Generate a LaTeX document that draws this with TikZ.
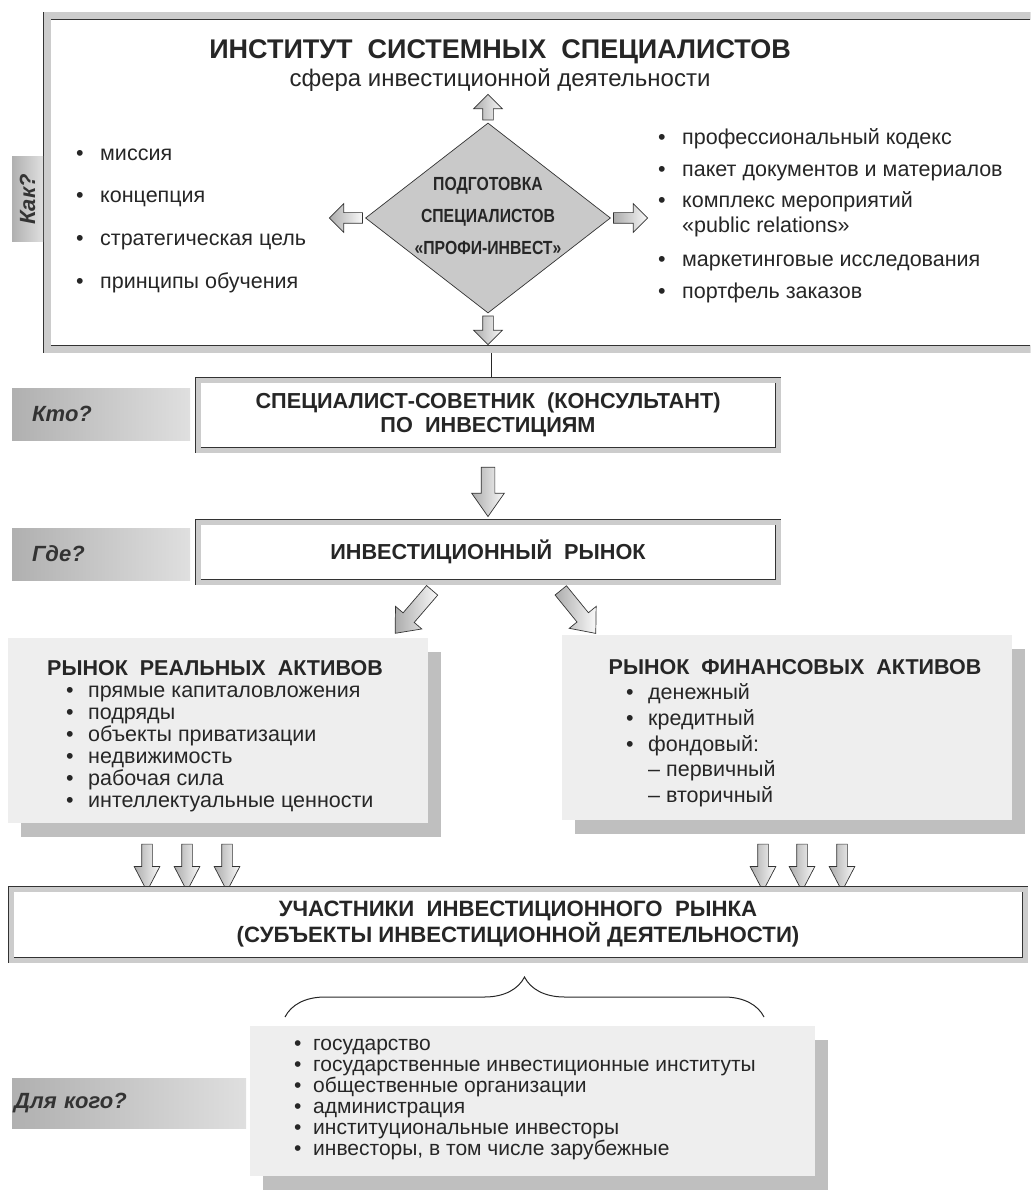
\documentclass[tikz,border=0pt]{standalone}
\usepackage{fontspec}
\setmainfont{Liberation Sans}
\newfontfamily\narrowfont[FakeStretch=0.83]{Liberation Sans}
\usetikzlibrary{shapes.geometric,shapes.arrows,calc,decorations.pathreplacing,shadows}

\newcommand\fs[2]{\fontsize{#1}{#2}\selectfont}
\newcommand\bul[1][22pt]{\makebox[#1][l]{\textbullet}}
\newcommand\blockarr[4][]{%
  \path let \p1=($(#4)-(#3)$), \n1={atan2(\y1,\x1)}, \n2={veclen(\x1,\y1)} in
    node[fatarr, #1, rotate=\n1, minimum height=\n2] (#2) at ($(#3)!0.5!(#4)$) {};}

\begin{document}
\begin{tikzpicture}[x=1pt, y=-1pt,
  txt/.style={text=black!85},
  frame/.style={draw=black!80, line width=0.7pt, double=gray!40, double distance=5pt,
    fill=white, text=black!85, align=center, font=\bfseries\fs{21.7}{24}},
  tag/.style={left color=gray!62, right color=gray!25, text=black!80,
    font=\bfseries\itshape\fs{22}{24}, inner xsep=20pt, anchor=west, align=left},
  item/.style={text=black!85, font=\fs{21.5}{22}, anchor=base west, inner sep=0pt},
  panel/.style={fill=gray!13, anchor=north west,
    drop shadow={shadow xshift=13pt, shadow yshift=-14pt, fill=gray!50, opacity=1}},
  fatarr/.style={shape=single arrow, draw=black!80, line width=0.7pt, inner sep=0pt,
    inner ysep=6.5pt, single arrow head extend=9.5pt, single arrow tip angle=70,
    left color=gray!65, right color=gray!5},
  smallarr/.style={inner ysep=5pt, single arrow head extend=9pt, single arrow tip angle=90},
  thinarr/.style={inner ysep=5pt, single arrow head extend=7.5pt, single arrow tip angle=55},
  diagarr/.style={inner ysep=7pt, single arrow head extend=10pt, single arrow tip angle=80},
]
\useasboundingbox (0,0) rectangle (1030,1190);
\clip (0,0) rectangle (1030,1190);

\node[frame, double distance=7pt, minimum width=989, minimum height=333] (inst) at (541.5,182.5) {};
\node[txt, font=\bfseries\fs{27}{30}] (title) at (500,52) {ИНСТИТУТ\ \ СИСТЕМНЫХ\ \ СПЕЦИАЛИСТОВ};
\node[txt, font=\fs{24}{28}] (sphere) at (500,80) {сфера инвестиционной деятельности};
\node[tag, rotate=90, anchor=center, inner sep=0pt, minimum width=85, minimum height=31] (qHow) at (27.5,199.5) {Как?};

\node[diamond, draw=black!80, line width=0.7pt, fill=gray!42, minimum width=245, minimum height=190, inner sep=0pt] (prep) at (488,218) {};
\node[txt, font=\narrowfont\bfseries\fs{19}{32}, align=center] (preptxt) at (488,216) {ПОДГОТОВКА\\СПЕЦИАЛИСТОВ\\«ПРОФИ-ИНВЕСТ»};

\coordinate (upT) at (488,97);
\coordinate (dnT) at (488,342);
\coordinate (lfT) at (332,218);
\coordinate (rtT) at (645,218);
\blockarr[smallarr]{aUp}{prep.north}{upT}
\blockarr[smallarr]{aDn}{prep.south}{dnT}
\blockarr[smallarr]{aLf}{prep.west}{lfT}
\blockarr[smallarr]{aRt}{prep.east}{rtT}

\foreach \t [count=\i] in {миссия, концепция, стратегическая цель, принципы обучения}
  \node[item] (how\i) at (76, 117.5+42.7*\i) {\bul[24pt]\t};

\foreach \y/\t [count=\i] in {145/профессиональный кодекс, 177/пакет документов и материалов,
    208/комплекс мероприятий, 266/маркетинговые исследования, 298/портфель заказов}
  \node[item] (tool\i) at (658,\y) {\bul[24pt]\t};
\node[item] (tool3b) at (682,233) {«public relations»};

\node[frame, minimum width=580, minimum height=70] (cons) at (488,415)
  {СПЕЦИАЛИСТ-СОВЕТНИК\ \ (КОНСУЛЬТАНТ)\\ПО\ \ ИНВЕСТИЦИЯМ};
\node[frame, minimum width=580, minimum height=60] (mkt) at (488,552) {ИНВЕСТИЦИОННЫЙ\ \ РЫНОК};
\node[tag, text width=138, minimum height=52] (qWho) at (12,414) {Кто?};
\node[tag, text width=138, minimum height=52] (qWhere) at (12,554) {Где?};

\draw[black!85, line width=0.8pt] ($(inst.south -| cons.north)+(3,4)$) -- ($(cons.north)+(3,-3)$);

\coordinate (c1) at ($(cons.south)+(0,12)$);
\coordinate (c2) at ($(mkt.north)+(0,-10)$);
\blockarr{aKw}{c1}{c2}

\coordinate (d1) at (435,587);
\coordinate (d1h) at (398,630);
\coordinate (d2) at (558,587);
\coordinate (d2h) at (593,630);
\blockarr[diagarr]{aReal}{d1}{d1h}
\blockarr[diagarr]{aFin}{d2}{d2h}

\node[panel, minimum width=420, minimum height=185] (real) at (8,638) {};
\node[panel, minimum width=450, minimum height=185] (fin) at (562,635) {};
\node[txt, font=\bfseries\fs{21.5}{24}] (realt) at (215,668) {РЫНОК\ \ РЕАЛЬНЫХ\ \ АКТИВОВ};
\node[txt, font=\bfseries\fs{21.5}{24}] (fint) at (795,667) {РЫНОК\ \ ФИНАНСОВЫХ\ \ АКТИВОВ};

\foreach \t [count=\i] in {прямые капиталовложения, подряды, объекты приватизации,
    недвижимость, рабочая сила, интеллектуальные ценности}
  \node[item] (real\i) at (66, 675.5+22*\i) {\bul\t};
\foreach \t [count=\i] in {денежный, кредитный, фондовый:}
  \node[item] (fin\i) at (626, 673.75+25.75*\i) {\bul\t};
\foreach \t [count=\i from 4] in {первичный, вторичный}
  \node[item] (fin\i) at (648, 673.75+25.75*\i) {–\hspace{6pt}\t};

\foreach \x [count=\i] in {147,187,227,763,802,842} {
  \coordinate (p\i) at (\x,839);
  \coordinate (q\i) at (\x,886);
  \blockarr[thinarr]{aPa\i}{p\i}{q\i}
}

\node[frame, font=\bfseries\fs{22.2}{26}, minimum width=1014, minimum height=71] (members) at (518,924.5)
  {УЧАСТНИКИ\ \ ИНВЕСТИЦИОННОГО\ \ РЫНКА\\(СУБЪЕКТЫ ИНВЕСТИЦИОННОЙ ДЕЯТЕЛЬНОСТИ)};

\coordinate (brL) at (285,1017);
\coordinate (brR) at (764,1017);
\draw[black!85, line width=1pt, decorate, decoration={brace, amplitude=40pt}] (brL) -- (brR);

\node[panel, minimum width=565, minimum height=150] (subj) at (250,1026) {};
\node[tag, inner xsep=2pt, text width=230, minimum height=50] (qWhom) at (12,1103) {Для кого?};
\foreach \t [count=\i] in {государство, государственные инвестиционные институты,
    общественные организации, администрация, институциональные инвесторы,
    {инвесторы, в том числе зарубежные}}
  \node[item, font=\fs{21}{22}] (subj\i) at (294, 1029.5+21*\i) {\bul[19pt]\t};
\end{tikzpicture}
\end{document}
